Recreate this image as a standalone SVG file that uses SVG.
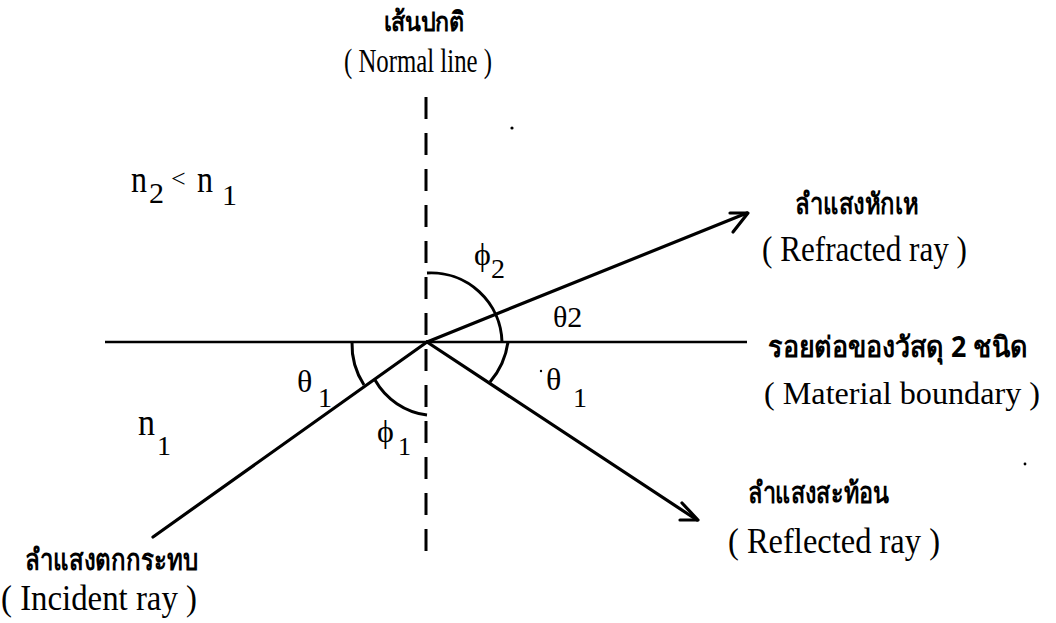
<svg xmlns="http://www.w3.org/2000/svg" width="1056" height="623" viewBox="0 0 1056 623">
<style>
.ln{stroke:#000;stroke-width:3.2;fill:none;stroke-linecap:round;stroke-linejoin:round}
.bd{stroke:#000;stroke-width:2.6;fill:none}
.arc{stroke:#000;stroke-width:3;fill:none}
.en{font-family:"Liberation Serif",serif;fill:#000}
.th{font-family:"Noto Sans","DejaVu Sans",sans-serif;font-weight:bold;fill:#000}
.m{font-family:"Liberation Serif","DejaVu Serif",serif;fill:#000}
</style>
<rect width="1056" height="623" fill="#fff"/>
<g id="boundary">
<line class="bd" x1="105" y1="342" x2="747" y2="342"/>
</g>
<g id="normal">
<line x1="426" y1="97" x2="426" y2="556" stroke="#000" stroke-width="3" stroke-dasharray="22 14"/>
</g>
<g id="connectors">
<line class="ln" x1="153" y1="537" x2="427" y2="342"/>
<line class="ln" x1="427" y1="342" x2="747" y2="213"/>
<polyline class="ln" points="730,213 748,213 733,232"/>
<line class="ln" x1="427" y1="342" x2="697" y2="520"/>
<polyline class="ln" points="682,503 698,520 680,520"/>
</g>
<g id="angles">
<path class="arc" d="M352 342 A75 75 0 0 0 364 385"/>
<path class="arc" d="M375 380 A70 70 0 0 0 427 415"/>
<path class="arc" d="M427 273 A71 71 0 0 1 502 342"/>
<path class="arc" d="M508 342 A78 78 0 0 1 490 382"/>
</g>
<g id="labels">
<text class="th" x="424" y="31" font-size="27" text-anchor="middle" textLength="81" lengthAdjust="spacingAndGlyphs">เส้นปกติ</text>
<text class="en" x="418" y="72" font-size="34" text-anchor="middle" textLength="148" lengthAdjust="spacingAndGlyphs">( Normal line )</text>
<text class="m" font-size="37" x="131" y="192" textLength="16" lengthAdjust="spacingAndGlyphs">n</text>
<text class="m" font-size="30" x="149" y="203">2</text>
<text class="m" font-size="26" x="171" y="187">&lt;</text>
<text class="m" font-size="37" x="197" y="192" textLength="16" lengthAdjust="spacingAndGlyphs">n</text>
<text class="m" font-size="30" x="222" y="205">1</text>
<text class="th" x="795" y="214" font-size="29" textLength="124" lengthAdjust="spacingAndGlyphs">ลำแสงหักเห</text>
<text class="en" x="762" y="261" font-size="36" textLength="205" lengthAdjust="spacingAndGlyphs">( Refracted ray )</text>
<text class="m" font-size="32" x="474" y="265">ϕ</text>
<text class="m" font-size="28" x="491" y="278">2</text>
<text class="m" font-size="30" x="553" y="327">θ2</text>
<text class="th" x="768" y="357" font-size="29" textLength="260" lengthAdjust="spacingAndGlyphs">รอยต่อของวัสดุ 2 ชนิด</text>
<text class="en" x="764" y="404" font-size="32" textLength="276" lengthAdjust="spacingAndGlyphs">( Material boundary )</text>
<text class="m" font-size="32" x="297" y="392">θ</text>
<text class="m" font-size="28" x="318" y="407">1</text>
<text class="m" font-size="32" x="546" y="390">θ</text>
<text class="m" font-size="28" x="573" y="407">1</text>
<text class="m" font-size="37" x="138" y="435" textLength="17" lengthAdjust="spacingAndGlyphs">n</text>
<text class="m" font-size="28" x="157" y="455">1</text>
<text class="m" font-size="32" x="377" y="442">ϕ</text>
<text class="m" font-size="26" x="398" y="455">1</text>
<text class="th" x="748" y="503" font-size="29" textLength="141" lengthAdjust="spacingAndGlyphs">ลำแสงสะท้อน</text>
<text class="en" x="728" y="553" font-size="36" textLength="212" lengthAdjust="spacingAndGlyphs">( Reflected ray )</text>
<text class="th" x="25" y="570" font-size="29" textLength="173" lengthAdjust="spacingAndGlyphs">ลำแสงตกกระทบ</text>
<text class="en" x="1" y="610" font-size="36" textLength="196" lengthAdjust="spacingAndGlyphs">( Incident ray )</text>
</g>
<g id="specks" fill="#000">
<circle cx="512" cy="128" r="1.6"/>
<circle cx="1025" cy="464" r="1.4"/>
<circle cx="541" cy="371" r="1.2"/>
</g>
</svg>
